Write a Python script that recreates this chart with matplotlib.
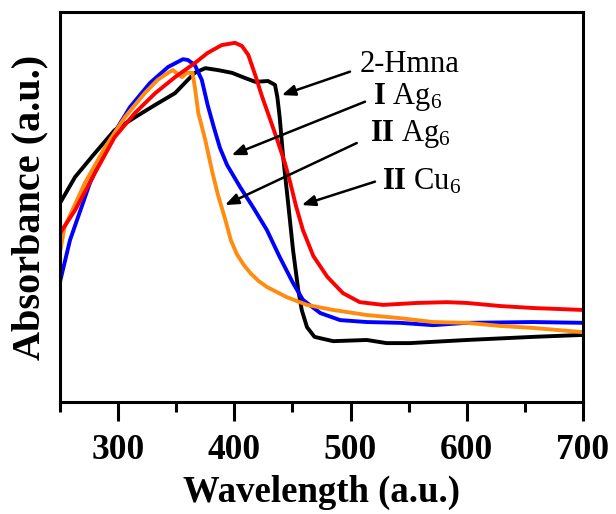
import matplotlib
matplotlib.use("Agg")
import matplotlib.pyplot as plt

# UV-vis absorbance spectra (arbitrary units)
hmna_wl = [250, 263, 280, 297, 315, 332, 349, 360, 366, 375, 386, 398, 409, 418,
           429, 435, 437, 439, 442, 446, 450.5, 455, 458, 462.5, 469, 485, 514,
           531, 551, 600, 657, 700]
hmna_abs = [0.510, 0.577, 0.638, 0.697, 0.731, 0.762, 0.792, 0.826, 0.844, 0.856,
            0.851, 0.844, 0.831, 0.821, 0.823, 0.813, 0.782, 0.731, 0.628, 0.518,
            0.390, 0.287, 0.236, 0.192, 0.167, 0.156, 0.159, 0.151, 0.151, 0.159,
            0.167, 0.172]

cu6_wl = [250, 263, 280, 297, 314.5, 332, 349, 366, 377, 389, 400.5, 406.5, 412,
          418, 424, 431, 437.5, 443.5, 448, 453, 459, 468, 480, 493.5, 508, 528,
          557, 583, 600, 629, 657, 700]
cu6_abs = [0.433, 0.492, 0.587, 0.679, 0.741, 0.792, 0.833, 0.869, 0.895, 0.915,
           0.921, 0.913, 0.890, 0.838, 0.782, 0.723, 0.667, 0.613, 0.564, 0.503,
           0.441, 0.374, 0.321, 0.279, 0.256, 0.249, 0.254, 0.256, 0.254, 0.246,
           0.241, 0.236]

ag6_i_wl = [250, 258.6, 275.8, 293, 310.2, 327.4, 343, 355.8, 360, 366, 372, 377,
            382.5, 387.7, 393.7, 405, 416, 428, 439, 450.5, 459, 474, 491, 514,
            542.5, 571, 600, 657, 700]
ag6_i_abs = [0.308, 0.415, 0.562, 0.672, 0.756, 0.818, 0.859, 0.879, 0.877, 0.864,
             0.826, 0.762, 0.703, 0.651, 0.608, 0.551, 0.500, 0.441, 0.372, 0.305,
             0.262, 0.228, 0.210, 0.205, 0.203, 0.197, 0.203, 0.205, 0.203]

ag6_ii_wl = [250, 254, 271.5, 289, 306, 323, 334, 343, 347, 355, 359, 364, 366, 369,
             375, 381, 386, 392, 397, 402, 408, 414, 421, 428, 445, 462.5, 485, 514,
             542.5, 571, 600, 629, 657, 700]
ag6_ii_abs = [0.385, 0.449, 0.562, 0.654, 0.731, 0.792, 0.826, 0.844, 0.851, 0.833,
              0.844, 0.844, 0.808, 0.741, 0.672, 0.590, 0.530, 0.470, 0.415, 0.380,
              0.352, 0.330, 0.310, 0.295, 0.269, 0.249, 0.236, 0.223, 0.215, 0.205,
              0.203, 0.195, 0.190, 0.179]

x_major = [300, 400, 500, 600, 700]
x_minor = [250, 350, 450, 550, 650]

# label text, arrow tail (x, y), arrow tip (x, y), text anchor (x, y)
labels = ["2-Hmna", r"$\mathbf{I}$ Ag$_6$", r"$\mathbf{II}$ Ag$_6$", r"$\mathbf{II}$ Cu$_6$"]
arrow_tails = [(499.5, 0.847), (512.4, 0.770), (505.3, 0.664), (521.0, 0.565)]
arrow_tips = [(440.8, 0.787), (397.7, 0.633), (392.0, 0.505), (458.0, 0.505)]
text_pos = [(508.1, 0.846), (519.3, 0.764), (516.7, 0.669), (527.1, 0.544)]

plt.rcParams["font.family"] = ["Liberation Serif", "DejaVu Serif"]
plt.rcParams["mathtext.fontset"] = "custom"
plt.rcParams["mathtext.rm"] = "Liberation Serif"
plt.rcParams["mathtext.it"] = "Liberation Serif:italic"
plt.rcParams["mathtext.bf"] = "Liberation Serif:bold"

fig = plt.figure(figsize=(6.16, 5.14), dpi=100)
ax = fig.add_axes([60 / 616, 112 / 514, 523 / 616, 390 / 514])

lw = 2.8
ax.plot(hmna_wl, hmna_abs, color="black", lw=lw, solid_joinstyle="round")
ax.plot(ag6_i_wl, ag6_i_abs, color="#0000ff", lw=lw, solid_joinstyle="round")
ax.plot(ag6_ii_wl, ag6_ii_abs, color="#ff8c0f", lw=lw, solid_joinstyle="round")
ax.plot(cu6_wl, cu6_abs, color="#ff0000", lw=lw, solid_joinstyle="round")

for text, tail, tip, pos in zip(labels, arrow_tails, arrow_tips, text_pos):
    ax.annotate("", xy=tip, xytext=tail,
                arrowprops=dict(arrowstyle="-|>,head_length=0.4,head_width=0.16",
                                color="black", lw=1.8, mutation_scale=20,
                                shrinkA=0, shrinkB=0))
    ax.text(pos[0], pos[1], text, fontsize=22, ha="left", va="baseline")

ax.set_xlim(250, 700)
ax.set_ylim(0, 1)
ax.set_xticks(x_major)
ax.set_xticks(x_minor, minor=True)
ax.set_yticks([])
ax.tick_params(axis="x", which="major", direction="out", length=14, width=2.2,
               pad=9, labelsize=25.5)
ax.tick_params(axis="x", which="minor", direction="out", length=7, width=2.2)
for lab in ax.get_xticklabels():
    lab.set_fontweight("bold")
for sp in ax.spines.values():
    sp.set_linewidth(2.2)

ax.set_xlabel("Wavelength (a.u.)", fontsize=26.5, fontweight="bold", labelpad=6)
ax.set_ylabel("Absorbance (a.u.)", fontsize=29, fontweight="bold", labelpad=8)

fig.savefig("out.png", dpi=100)
